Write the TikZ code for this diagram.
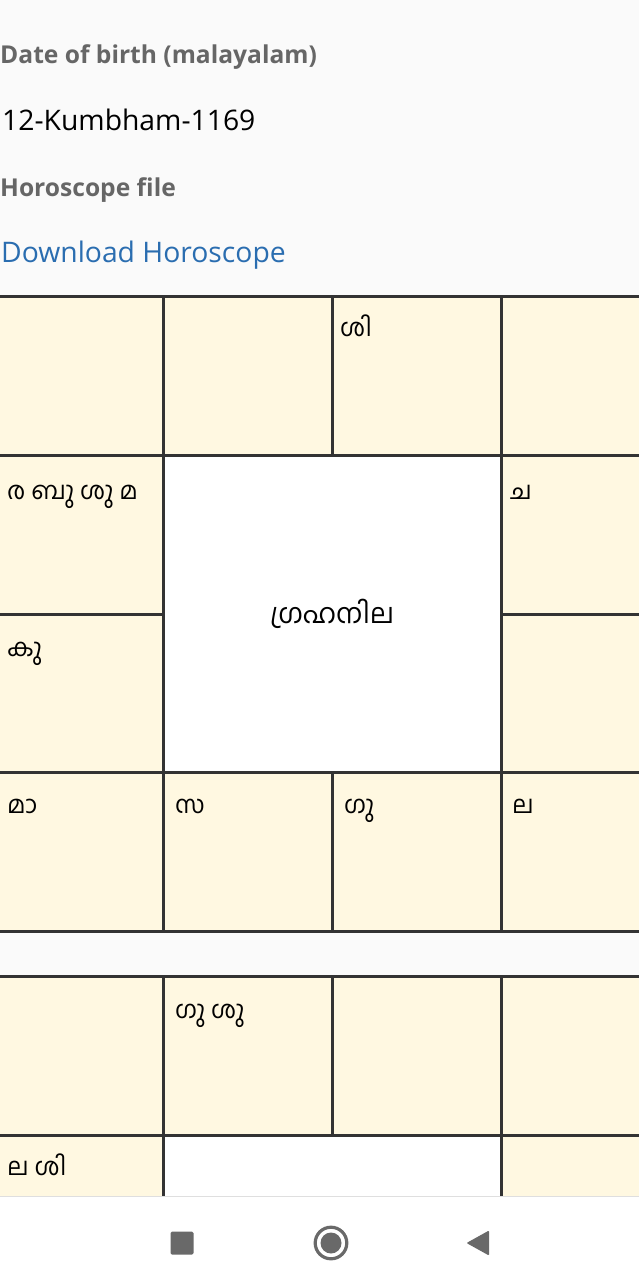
\documentclass[tikz,border=0pt]{standalone}
\usepackage{fontspec}
\setmainfont{Open Sans}
\newfontfamily\mlfont[Script=Malayalam]{Hind Kochi}

\definecolor{pagebg}{HTML}{FAFAFA}
\definecolor{cellbg}{HTML}{FFF8E1}
\definecolor{gridline}{HTML}{333333}
\definecolor{labelgray}{HTML}{666666}
\definecolor{linkblue}{HTML}{2A6DB0}
\definecolor{navgray}{HTML}{696969}

\tikzset{
  fieldname/.style={font=\bfseries\fontsize{24.6}{28}\selectfont, text=labelgray},
  fieldvalue/.style={font=\fontsize{28.3}{32}\selectfont, text=black},
  fieldlink/.style={font=\fontsize{28.3}{32}\selectfont, text=linkblue},
  graha/.style={font=\mlfont\fontsize{24.5}{28}\selectfont, text=black},
  gridrule/.style={gridline, line width=3pt}
}

\begin{document}
\begin{tikzpicture}[x=1pt,y=-1pt]
\tikzstyle{every node}+=[inner sep=0pt, anchor=base west]
\useasboundingbox (0,0) rectangle (639,1277);
\fill [pagebg] (0,0) rectangle (639,1277);

% details above the charts
\node [fieldname] (dobname) at (0,63) {Date of birth (malayalam)};
\node [fieldvalue] (dobvalue) at (2,130) {12-Kumbham-1169};
\node [fieldname] (filename) at (0,196) {Horoscope file};
\node [fieldlink] (filelink) at (1,262) {Download Horoscope};

\begin{scope}
\clip (0,0) rectangle (639,1196);
% first chart
\fill [cellbg] (-6,296) rectangle (670,931);
\fill [white] (163,455) rectangle (501,772);
\foreach \y in {296,455,772,931}
  \draw [gridrule] (-6,\y) -- (670,\y);
\draw [gridrule] (-6,614) -- (163,614);
\draw [gridrule] (501,614) -- (670,614);
\foreach \x in {163,501}
  \draw [gridrule] (\x,296) -- (\x,931);
\draw [gridrule] (332,296) -- (332,455);
\draw [gridrule] (332,772) -- (332,931);

\node [graha] (rasi3) at (340,336) {ശി};
\node [graha] (rasi12) at (7,499) {ര ബു ശു മ};
\node [graha] (rasi5) at (510,499) {ച};
\node [graha] (rasi11) at (7,656) {കു};
\node [graha] (rasi10) at (7,813) {മാ};
\node [graha] (rasi9) at (175,813) {സ};
\node [graha] (rasi8) at (344,813) {ഗു};
\node [graha] (rasi7) at (512,813) {ല};
\node [graha, font=\mlfont\fontsize{27.5}{32}\selectfont, anchor=center] (title) at (332,614) {ഗ്രഹനില};

% second chart
\fill [cellbg] (-6,976) rectangle (670,1300);
\fill [white] (163,1135) rectangle (501,1300);
\foreach \y in {976,1135}
  \draw [gridrule] (-6,\y) -- (670,\y);
\foreach \x in {163,501}
  \draw [gridrule] (\x,976) -- (\x,1300);
\draw [gridrule] (332,976) -- (332,1135);

\node [graha] (amsa2) at (175,1018) {ഗു ശു};
\node [graha] (amsa12) at (7,1175) {ല ശി};
\end{scope}

% navigation bar
\fill [white] (0,1196) rectangle (639,1277);
\draw [gray!25, line width=1pt] (0,1196) -- (639,1196);
\fill [navgray, rounded corners=1.5pt] (170.5,1231.5) rectangle (193.5,1254.5);
\draw [navgray, line width=3.2pt] (331,1243) circle (15.8);
\fill [navgray] (331,1243) circle (10.5);
\fill [navgray, rounded corners=1pt] (489,1230.5) -- (466.5,1243) -- (489,1255.5) -- cycle;
\end{tikzpicture}
\end{document}
